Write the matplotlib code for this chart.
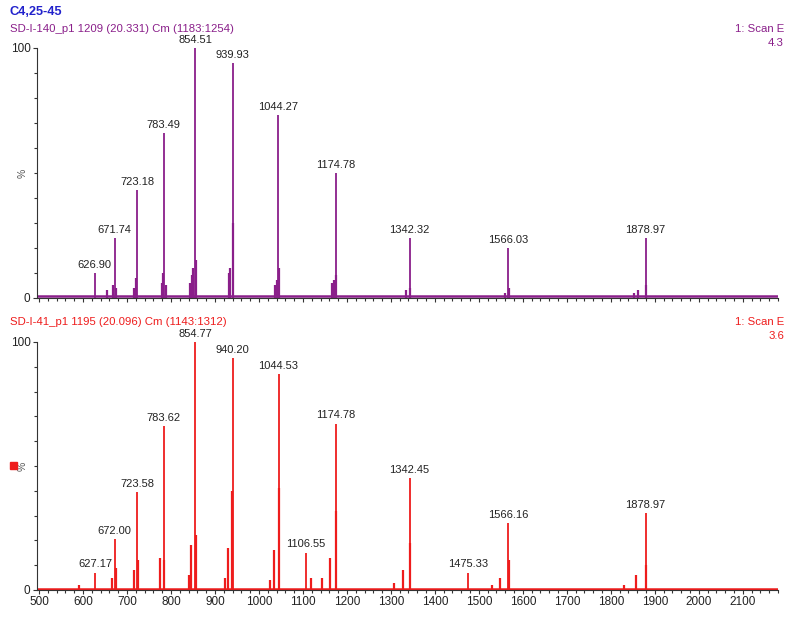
import numpy as np
import matplotlib.pyplot as plt
from matplotlib.patches import Rectangle
from matplotlib.ticker import MultipleLocator

plt.rcParams['font.family'] = ['Liberation Sans', 'DejaVu Sans']

# labelled peaks, upper spectrum (SD-I-140_p1)
top_mz = [626.90, 671.74, 723.18, 783.49, 854.51, 939.93, 1044.27, 1174.78, 1342.32, 1566.03, 1878.97]
top_int = [10, 24, 43, 66, 100, 94, 73, 50, 24, 20, 24]
# unlabelled side peaks, upper spectrum
top_minor_mz = [655, 668, 675, 716, 721, 779, 781, 788, 844, 848, 851, 857, 931, 935, 941,
                1036, 1040, 1046, 1166, 1170, 1176, 1334, 1344, 1559, 1568, 1852, 1862, 1880]
top_minor_int = [3, 5, 4, 4, 8, 6, 10, 5, 6, 9, 12, 15, 10, 12, 30,
                 5, 7, 12, 6, 7, 9, 3, 4, 2, 4, 2, 3, 5]

# labelled peaks, lower spectrum (SD-I-41_p1)
bot_mz = [627.17, 672.00, 723.58, 783.62, 854.77, 940.20, 1044.53, 1106.55, 1174.78, 1342.45, 1475.33, 1566.16, 1878.97]
bot_int = [7, 20.5, 39.5, 66, 100, 93.5, 87, 15, 67, 45, 7, 27, 31]
bot_minor_mz = [590, 665, 674, 716, 725, 776, 785, 841, 846, 856, 922, 930, 938, 1026, 1034, 1046,
                1118, 1143, 1161, 1176, 1306, 1327, 1344, 1530, 1547, 1568, 1830, 1858, 1880]
bot_minor_int = [2, 5, 9, 8, 12, 13, 12, 6, 18, 22, 5, 17, 40, 4, 16, 41,
                 5, 5, 13, 32, 3, 8, 19, 2, 5, 12, 2, 6, 10]

purple = '#8a1f8a'
red = '#ee1c1c'
grey = '#333333'

fig = plt.figure(figsize=(8, 6.2), dpi=100)
ax_top = fig.add_axes([0.046, 0.5194, 0.9265, 0.4032])
ax_bot = fig.add_axes([0.046, 0.0484, 0.9265, 0.40])


def draw(ax, mz, inten, minor_mz, minor_int, color, show_labels):
    ax.vlines(minor_mz, 0, minor_int, color=color, lw=1.6)
    ax.vlines(mz, 0, inten, color=color, lw=1.3)
    ax.axhline(0.6, color=color, lw=1.8)
    for m, h in zip(mz, inten):
        ax.annotate(f'{m:.2f}', (m, h), xytext=(0, 2.5), textcoords='offset points',
                    ha='center', va='bottom', fontsize=8, color='#222222',
                    annotation_clip=False)
    ax.set_xlim(495, 2180)
    ax.set_ylim(0, 100)
    ax.spines['top'].set_visible(False)
    ax.spines['right'].set_visible(False)
    ax.spines['left'].set_color(grey)
    ax.spines['bottom'].set_color(grey)
    ax.set_xticks(np.arange(500, 2200, 100))
    ax.xaxis.set_minor_locator(MultipleLocator(20))
    ax.set_yticks([0, 100])
    ax.yaxis.set_minor_locator(MultipleLocator(10))
    ax.tick_params(axis='both', which='both', colors=grey, labelcolor='#222222',
                   labelsize=8.5, length=3, width=0.8, pad=1.5)
    ax.tick_params(axis='both', which='minor', length=2)
    if not show_labels:
        ax.tick_params(axis='x', labelbottom=False)
    ax.text(-0.012, 0.5, '%', transform=ax.transAxes, rotation=90, ha='right',
            va='center', fontsize=7.5, color='#555555')


draw(ax_top, top_mz, top_int, top_minor_mz, top_minor_int, purple, False)
draw(ax_bot, bot_mz, bot_int, bot_minor_mz, bot_minor_int, red, True)

fig.text(0.0125, 0.981, 'C4,25-45', color='#2222cc', fontsize=9.2, fontweight='bold', va='center')
fig.text(0.0125, 0.953, 'SD-I-140_p1 1209 (20.331) Cm (1183:1254)', color=purple, fontsize=8.2, va='center')
fig.text(0.98, 0.953, '1: Scan E', color=purple, fontsize=8.2, ha='right', va='center')
fig.text(0.98, 0.931, '4.3', color=purple, fontsize=8.2, ha='right', va='center')
fig.text(0.0125, 0.480, 'SD-I-41_p1 1195 (20.096) Cm (1143:1312)', color=red, fontsize=8.2, va='center')
fig.text(0.98, 0.480, '1: Scan E', color=red, fontsize=8.2, ha='right', va='center')
fig.text(0.98, 0.458, '3.6', color=red, fontsize=8.2, ha='right', va='center')
fig.add_artist(Rectangle((0.0125, 0.244), 0.009, 0.0115, transform=fig.transFigure, color=red))

fig.savefig('out.png', dpi=100)
